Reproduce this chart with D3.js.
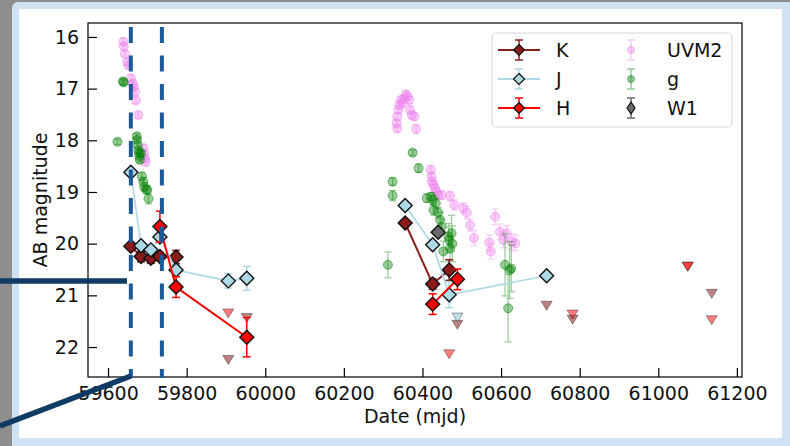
<!DOCTYPE html>
<html>
<head>
  <meta charset="utf-8" />
  <title>Light curve</title>
  <style>
    body { margin: 0; background: #8e8e8e; }
    svg { display: block; font-family: "DejaVu Sans", sans-serif; }
  </style>
</head>
<body>
  <svg id="chart" width="790" height="446"></svg>
  <script src="https://cdn.jsdelivr.net/npm/d3@7"></script>
  <script>

    // [mjd, mag, err] ; segments are connected by a line
    var kSegments = [
      [[59658, 20.05, 0.05], [59684, 20.25, 0.1], [59709, 20.28, 0.1], [59732, 20.25, 0.08], [59773, 20.26, 0.13]],
      [[60356, 19.60, 0.05], [60426, 20.78, 0.1], [60468, 20.51, 0.2]]
    ]
    var jSegments = [
      [[59658, 18.62, 0.05], [59684, 20.04, 0.06], [59709, 20.12, 0.06], [59732, 19.87, 0.06], [59773, 20.51, 0.08], [59906, 20.72, 0.14], [59953, 20.67, 0.23]],
      [[60356, 19.26, 0.05], [60426, 20.02, 0.06], [60468, 20.99, 0.25], [60716, 20.62, 0.05]]
    ]
    var hSegments = [
      [[59732, 19.67, 0.3], [59773, 20.84, 0.2], [59953, 21.81, 0.38]],
      [[60426, 21.17, 0.2], [60489, 20.69, 0.2]]
    ]
    var w1Points = [[60440, 19.78, 0.05]]

    var uvm2Points = [
      [59639, 16.09, 0.06], [59640, 16.18, 0.06], [59643, 16.33, 0.06], [59649, 16.49, 0.06], [59652, 16.55, 0.06],
      [59658, 16.80, 0.06], [59663, 16.90, 0.06], [59666, 16.97, 0.06], [59669, 17.06, 0.06], [59671, 17.23, 0.06],
      [59677, 17.51, 0.06], [59690, 18.15, 0.07], [59692, 18.25, 0.07], [59694, 18.35, 0.07], [59696, 18.42, 0.07],
      [60334, 17.67, 0.07], [60336, 17.77, 0.07], [60336, 17.54, 0.07], [60339, 17.41, 0.07], [60341, 17.32, 0.07],
      [60345, 17.22, 0.07], [60349, 17.28, 0.07], [60353, 17.19, 0.07], [60358, 17.11, 0.07], [60362, 17.15, 0.07],
      [60366, 17.22, 0.07], [60368, 17.41, 0.07], [60373, 17.51, 0.07], [60379, 17.54, 0.07], [60384, 17.78, 0.08],
      [60421, 18.57, 0.08], [60423, 18.70, 0.08], [60424, 18.80, 0.08], [60428, 18.86, 0.08], [60432, 18.93, 0.08],
      [60436, 19.00, 0.08], [60440, 19.06, 0.08], [60449, 19.06, 0.08], [60470, 19.08, 0.09], [60481, 19.25, 0.1],
      [60504, 19.31, 0.1], [60513, 19.40, 0.12], [60521, 19.64, 0.12], [60531, 19.89, 0.15], [60570, 19.98, 0.15],
      [60574, 20.15, 0.15], [60585, 19.48, 0.15], [60597, 19.77, 0.15], [60606, 19.93, 0.15], [60614, 19.80, 0.15],
      [60627, 19.96, 0.15], [60636, 19.99, 0.15]
    ]
    var gPoints = [
      [59624, 18.03, 0.05], [59638, 16.86, 0.05], [59640, 16.88, 0.05], [59673, 17.92, 0.05], [59674, 17.99, 0.05],
      [59675, 18.09, 0.05], [59677, 18.19, 0.05], [59679, 18.25, 0.05], [59680, 18.32, 0.05], [59681, 18.38, 0.05],
      [59684, 18.25, 0.05], [59686, 18.70, 0.08], [59690, 18.80, 0.08], [59692, 18.90, 0.08], [59697, 18.95, 0.08],
      [59700, 18.96, 0.08], [59703, 19.13, 0.1],
      [60312, 20.41, 0.25], [60324, 18.80, 0.07], [60324, 19.07, 0.1], [60375, 18.24, 0.05], [60390, 18.54, 0.08],
      [60411, 19.12, 0.08], [60422, 19.09, 0.08], [60426, 19.15, 0.1], [60428, 19.35, 0.1], [60434, 19.22, 0.1],
      [60440, 19.40, 0.1], [60445, 19.54, 0.15], [60449, 19.67, 0.15], [60453, 20.15, 0.2], [60466, 19.86, 0.25],
      [60468, 19.93, 0.25], [60470, 20.09, 0.25], [60474, 19.80, 0.35], [60476, 20.00, 0.35],
      [60610, 20.41, 0.6], [60618, 21.25, 0.65], [60622, 20.51, 0.55], [60626, 20.48, 0.45]
    ]

    // upper limits (down triangles)
    var hLimits = [[59906, 21.35], [60468, 22.14], [60782, 21.37], [61075, 20.44], [61075, 20.45], [61136, 21.48]]
    var kLimits = [[59906, 22.25], [59953, 21.44], [60489, 21.57], [60716, 21.20], [60782, 21.47], [61136, 20.97]]
    var jLimits = [[60489, 21.43]]

    var markedDates = [59658, 59737]
    var xTicks = [59600, 59800, 60000, 60200, 60400, 60600, 60800, 61000, 61200]
    var yTicks = [16, 17, 18, 19, 20, 21, 22]

    var legendLeft = [
      { label: 'K', color: '#8b1c1c', fill: '#8b1c1c' },
      { label: 'J', color: '#add8e6', fill: '#add8e6' },
      { label: 'H', color: '#ff0000', fill: '#ff0000' }
    ]
    var legendRight = [
      { label: 'UVM2', color: '#ee82ee', kind: 'circle' },
      { label: 'g', color: '#008000', kind: 'circle' },
      { label: 'W1', color: '#696969', kind: 'diamond' }
    ]

    var svg = d3.select('#chart')

    // slide frame
    svg.append('rect').attr('x', 12).attr('y', 2).attr('width', 800).attr('height', 460)
      .attr('rx', 6).attr('fill', '#cfe2f3')
    svg.append('rect').attr('x', 19).attr('y', 9).attr('width', 763).attr('height', 429)
      .attr('fill', '#ffffff')

    var plotLeft = 88, plotRight = 742, plotTop = 23, plotBottom = 377
    var x = d3.scaleLinear().domain([59549, 61213]).range([plotLeft, plotRight])
    var y = d3.scaleLinear().domain([15.73, 22.58]).range([plotTop, plotBottom])

    var plot = svg.append('g')

    function diamond(r) {
      return 'M0,' + (-r) + 'L' + r + ',0L0,' + r + 'L' + (-r) + ',0Z'
    }
    function triangle(w, h) {
      return 'M' + (-w / 2) + ',' + (-h / 2) + 'L' + (w / 2) + ',' + (-h / 2) + 'L0,' + (h / 2) + 'Z'
    }

    function errorBars(g, pts, color, cap, width, opacity) {
      var e = g.append('g').attr('stroke', color).attr('stroke-width', width).attr('opacity', opacity)
      pts.forEach(function (d) {
        var cx = x(d[0]), y0 = y(d[1] - d[2]), y1 = y(d[1] + d[2])
        e.append('line').attr('x1', cx).attr('x2', cx).attr('y1', y0).attr('y2', y1)
        e.append('line').attr('x1', cx - cap).attr('x2', cx + cap).attr('y1', y0).attr('y2', y0)
        e.append('line').attr('x1', cx - cap).attr('x2', cx + cap).attr('y1', y1).attr('y2', y1)
      })
    }

    // UVM2 and g
    function circleSeries(pts, color) {
      var g = plot.append('g')
      errorBars(g, pts, color, 3.5, 1.2, 0.4)
      g.selectAll('circle').data(pts).enter().append('circle')
        .attr('cx', function (d) { return x(d[0]) })
        .attr('cy', function (d) { return y(d[1]) })
        .attr('r', 4.5)
        .attr('fill', color).attr('fill-opacity', 0.4)
        .attr('stroke', color).attr('stroke-opacity', 0.5)
    }
    circleSeries(uvm2Points, '#ee82ee')
    circleSeries(gPoints, '#008000')

    // upper limits
    function limits(pts, color, opacity) {
      plot.append('g').selectAll('path').data(pts).enter().append('path')
        .attr('d', triangle(11, 9))
        .attr('transform', function (d) { return 'translate(' + x(d[0]) + ',' + y(d[1]) + ')' })
        .attr('fill', color).attr('fill-opacity', opacity)
        .attr('stroke', '#000').attr('stroke-opacity', 0.35).attr('stroke-width', 1)
    }
    limits(kLimits, '#8b1c1c', 0.55)
    limits(hLimits, '#ff0000', 0.5)
    limits(jLimits, '#add8e6', 0.8)

    var line = d3.line().x(function (d) { return x(d[0]) }).y(function (d) { return y(d[1]) })

    function diamondSeries(segments, color, lineWidth) {
      var g = plot.append('g')
      segments.forEach(function (seg) {
        g.append('path').attr('d', line(seg)).attr('fill', 'none')
          .attr('stroke', color).attr('stroke-width', lineWidth)
      })
      segments.forEach(function (seg) {
        errorBars(g, seg, color, 4, 1.5, 1)
      })
      segments.forEach(function (seg) {
        g.append('g').selectAll('path').data(seg).enter().append('path')
          .attr('d', diamond(7))
          .attr('transform', function (d) { return 'translate(' + x(d[0]) + ',' + y(d[1]) + ')' })
          .attr('fill', color).attr('stroke', '#111').attr('stroke-width', 1.4)
      })
    }
    diamondSeries(kSegments, '#8b1c1c', 2)
    diamondSeries(jSegments, '#add8e6', 1.6)
    diamondSeries(hSegments, '#ff0000', 2)
    diamondSeries([w1Points], '#696969', 0)

    // axes box
    svg.append('rect').attr('x', plotLeft).attr('y', plotTop)
      .attr('width', plotRight - plotLeft).attr('height', plotBottom - plotTop)
      .attr('fill', 'none').attr('stroke', '#000').attr('stroke-width', 1.2)

    var xAxis = svg.append('g').attr('transform', 'translate(0,' + plotBottom + ')')
      .call(d3.axisBottom(x).tickValues(xTicks).tickFormat(d3.format('d')).tickSizeInner(-9).tickSizeOuter(0).tickPadding(10))
    var yAxis = svg.append('g').attr('transform', 'translate(' + plotLeft + ',0)')
      .call(d3.axisLeft(y).tickValues(yTicks).tickFormat(d3.format('d')).tickSizeInner(-9).tickSizeOuter(0).tickPadding(9))
    ;[xAxis, yAxis].forEach(function (a) {
      a.select('.domain').remove()
      a.selectAll('line').attr('stroke', '#000').attr('stroke-width', 1.2)
      a.selectAll('text').attr('font-size', 19).attr('fill', '#111').attr('font-family', 'DejaVu Sans')
    })

    svg.append('text').attr('x', (plotLeft + plotRight) / 2).attr('y', 423).attr('text-anchor', 'middle')
      .attr('font-size', 19).attr('fill', '#111').text('Date (mjd)')
    svg.append('text').attr('transform', 'translate(47,' + (plotTop + plotBottom) / 2 + ') rotate(-90)')
      .attr('text-anchor', 'middle').attr('font-size', 19).attr('fill', '#111').text('AB magnitude')

    // legend
    var legend = svg.append('g')
    legend.append('rect').attr('x', 492).attr('y', 33).attr('width', 240).attr('height', 94).attr('rx', 4)
      .attr('fill', '#fff').attr('fill-opacity', 0.8).attr('stroke', '#d6d6d6')
    legendLeft.forEach(function (d, i) {
      var cy = 50 + i * 29
      legend.append('line').attr('x1', 498).attr('x2', 540).attr('y1', cy).attr('y2', cy)
        .attr('stroke', d.color).attr('stroke-width', 2)
      var e = legend.append('g').attr('stroke', d.color).attr('stroke-width', 1.5)
      e.append('line').attr('x1', 519).attr('x2', 519).attr('y1', cy - 10).attr('y2', cy + 10)
      e.append('line').attr('x1', 515).attr('x2', 523).attr('y1', cy - 10).attr('y2', cy - 10)
      e.append('line').attr('x1', 515).attr('x2', 523).attr('y1', cy + 10).attr('y2', cy + 10)
      legend.append('path').attr('d', diamond(5.5)).attr('transform', 'translate(519,' + cy + ')')
        .attr('fill', d.fill).attr('stroke', '#111').attr('stroke-width', 1.2)
      legend.append('text').attr('x', 556).attr('y', cy).attr('dy', '0.36em')
        .attr('font-size', 19).attr('fill', '#111').text(d.label)
    })
    legendRight.forEach(function (d, i) {
      var cy = 50 + i * 29
      var op = d.kind === 'circle' ? 0.4 : 1
      var e = legend.append('g').attr('stroke', d.color).attr('stroke-width', 1.5).attr('opacity', op)
      e.append('line').attr('x1', 631).attr('x2', 631).attr('y1', cy - 10).attr('y2', cy + 10)
      e.append('line').attr('x1', 627).attr('x2', 635).attr('y1', cy - 10).attr('y2', cy - 10)
      e.append('line').attr('x1', 627).attr('x2', 635).attr('y1', cy + 10).attr('y2', cy + 10)
      if (d.kind === 'circle') {
        legend.append('circle').attr('cx', 631).attr('cy', cy).attr('r', 3.5)
          .attr('fill', d.color).attr('fill-opacity', 0.4).attr('stroke', d.color).attr('stroke-opacity', 0.5)
      } else {
        legend.append('path').attr('d', 'M0,-6L4,0L0,6L-4,0Z').attr('transform', 'translate(631,' + cy + ')')
          .attr('fill', d.color).attr('stroke', '#111').attr('stroke-width', 1.2)
      }
      legend.append('text').attr('x', 667).attr('y', cy).attr('dy', '0.36em')
        .attr('font-size', 19).attr('fill', '#111').text(d.label)
    })

    // marked epochs
    svg.append('g').selectAll('line').data(markedDates).enter().append('line')
      .attr('x1', function (d) { return x(d) }).attr('x2', function (d) { return x(d) })
      .attr('y1', 27).attr('y2', plotBottom + 1)
      .attr('stroke', '#1c5a9c').attr('stroke-width', 4).attr('stroke-dasharray', '16,12.5')

    // pointer lines from the slide
    svg.append('line').attr('x1', 0).attr('y1', 281).attr('x2', 127).attr('y2', 281)
      .attr('stroke', '#0e3a63').attr('stroke-width', 5.5)
    svg.append('line').attr('x1', 0).attr('y1', 426).attr('x2', 131).attr('y2', 376)
      .attr('stroke', '#0e3a63').attr('stroke-width', 5.5)

  </script>
</body>
</html>
